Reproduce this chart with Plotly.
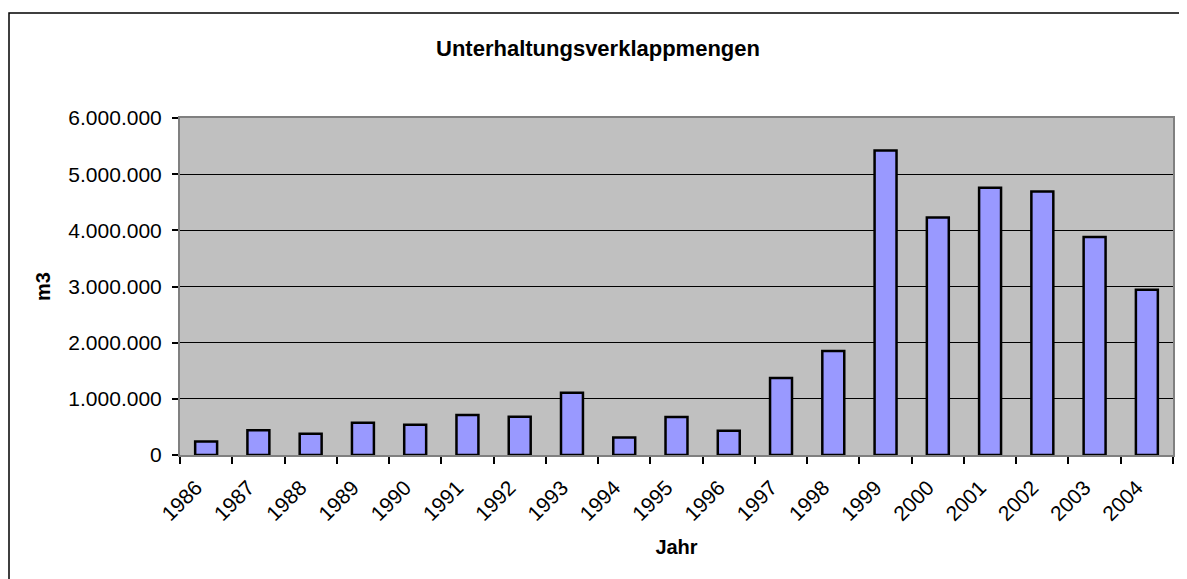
import plotly.graph_objects as go

# Jahre und Verklappmengen (m3)
jahre = ["1986", "1987", "1988", "1989", "1990", "1991", "1992", "1993", "1994", "1995",
         "1996", "1997", "1998", "1999", "2000", "2001", "2002", "2003", "2004"]
mengen = [240000, 440000, 380000, 575000, 540000, 710000, 680000, 1110000, 310000, 675000,
          430000, 1370000, 1850000, 5420000, 4230000, 4760000, 4690000, 3880000, 2940000]

font_fam = "Liberation Sans, Arial, sans-serif"

# page body has an 8px margin, so the figure is a bit smaller than the window
W, H = 1179, 571

fig = go.Figure()
fig.add_trace(go.Bar(
    x=jahre, y=mengen,
    marker=dict(color="#9999FF", line=dict(color="black", width=2.5)),
))

fig.update_layout(
    width=W, height=H,
    margin=dict(l=172, r=14, t=110, b=124),
    paper_bgcolor="white",
    plot_bgcolor="#C0C0C0",
    separators=",.",
    bargap=0.58,
    showlegend=False,
    font=dict(family=font_fam, size=21, color="black"),
    title=dict(text="<b>Unterhaltungsverklappmengen</b>", x=590/W, xanchor="center",
               y=1 - 40/H, yanchor="middle", font=dict(size=22)),
)

fig.update_xaxes(
    type="category",
    tickangle=-45,
    ticks="outside", ticklen=7, tickcolor="black", tickwidth=1.5,
    tickson="boundaries",
    ticklabelstandoff=10, ticklabelshift=-10,
    showline=True, linecolor="#808080", linewidth=2, mirror=True,
    showgrid=False,
    title=dict(text="<b>Jahr</b>", font=dict(size=20), standoff=16),
)

fig.update_yaxes(
    range=[0, 6000000], dtick=1000000, tickformat=",d",
    ticks="outside", ticklen=6, tickcolor="black", tickwidth=1.5,
    ticklabelstandoff=6,
    showline=True, linecolor="#808080", linewidth=2, mirror=True,
    showgrid=True, gridcolor="black", gridwidth=1,
    zeroline=False,
    title=dict(text="<b>m3</b>", font=dict(size=20), standoff=12),
)

# Rahmen des Diagrammbereichs (läuft rechts und unten aus dem Bild)
fig.add_shape(type="rect", xref="paper", yref="paper",
              x0=(1 - 172) / 993, x1=1.2, y0=-0.6, y1=(447 - 5) / 337,
              line=dict(color="black", width=1.5), fillcolor="rgba(0,0,0,0)", layer="below")

fig.write_html("out.html")
